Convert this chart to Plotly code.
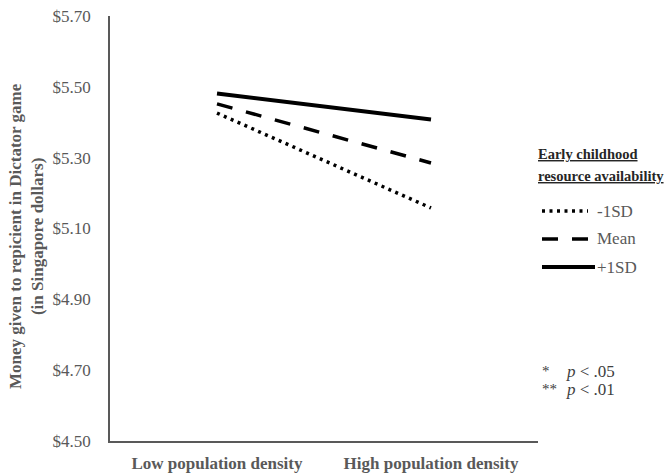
import plotly.graph_objects as go

# Simple-slopes data: money given in the Dictator game
categories = ["Low population density", "High population density"]
series_names = ["-1SD", "Mean", "+1SD"]
minus_1sd = [5.426, 5.158]
mean_vals = [5.452, 5.285]
plus_1sd = [5.481, 5.408]
y_ticks = [4.50, 4.70, 4.90, 5.10, 5.30, 5.50, 5.70]
y_tick_labels = ["$4.50", "$4.70", "$4.90", "$5.10", "$5.30", "$5.50", "$5.70"]

SERIF = "Liberation Serif, Times New Roman, serif"
GRAY = "#595959"

# plot area in pixels
L, R, T, B = 110, 538, 16, 441
W, H = 669, 475


def px(xp):
    return (xp - L) / (R - L)


def py(yp):
    return (B - yp) / (B - T)


styles = {
    "-1SD": dict(width=3.5, dash="3px,4.5px"),
    "Mean": dict(width=3.5, dash="16px,14px"),
    "+1SD": dict(width=4, dash="solid"),
}

fig = go.Figure()
for name, vals in zip(series_names, [minus_1sd, mean_vals, plus_1sd]):
    fig.add_trace(go.Scatter(
        x=categories, y=vals, mode="lines", name=name,
        line=dict(color="black", **styles[name]),
        showlegend=False,
    ))

fig.update_layout(
    width=W, height=H,
    margin=dict(l=L, r=W - R, t=T, b=H - B),
    paper_bgcolor="white", plot_bgcolor="white",
    font=dict(family=SERIF, color=GRAY, size=17),
    xaxis=dict(
        type="category", range=[-0.5, 1.5], automargin=False,
        showline=True, linecolor=GRAY, linewidth=1.5,
        ticks="", showgrid=False, zeroline=False,
        tickfont=dict(family=SERIF, size=17, color=GRAY, weight="bold"),
        ticklabelstandoff=6,
    ),
    yaxis=dict(
        range=[4.50, 5.70], tickvals=y_ticks, ticktext=y_tick_labels,
        automargin=False,
        showline=True, linecolor=GRAY, linewidth=1.5,
        ticks="", showgrid=False, zeroline=False,
        tickfont=dict(family=SERIF, size=17, color=GRAY),
        ticklabelstandoff=14,
    ),
)

# Y-axis title
fig.add_annotation(
    xref="paper", yref="paper", x=px(27), y=py(236),
    xanchor="center", yanchor="middle", showarrow=False, textangle=-90,
    text="<b>Money given to repicient in Dictator game<br>(in Singapore dollars)</b>",
    font=dict(family=SERIF, size=17, color=GRAY),
)

# Legend block drawn beside the plot
for txt, ypx in [("Early childhood", 154), ("resource availability", 176)]:
    fig.add_annotation(
        xref="paper", yref="paper", x=px(536), y=py(ypx),
        xanchor="left", yanchor="middle", showarrow=False, align="left",
        text=f"<b><u>{txt}</u></b>",
        font=dict(family=SERIF, size=14.5, color="#262626"),
    )
legend_rows = {"-1SD": 211, "Mean": 239, "+1SD": 267}
legend_ends = {"-1SD": 588, "Mean": 588, "+1SD": 595}
for name in series_names:
    yp = py(legend_rows[name])
    fig.add_shape(
        type="line", xref="paper", yref="paper",
        x0=px(542), x1=px(legend_ends[name]), y0=yp, y1=yp,
        line=dict(color="black", **styles[name]),
    )
    fig.add_annotation(
        xref="paper", yref="paper", x=px(595), y=yp,
        xanchor="left", yanchor="middle", showarrow=False,
        text=name, font=dict(family=SERIF, size=17, color=GRAY),
    )

# Significance key
for stars, rest, ypx in [("*", "<i>p</i> &lt; .05", 371), ("**", "<i>p</i> &lt; .01", 389)]:
    fig.add_annotation(
        xref="paper", yref="paper", x=px(540), y=py(ypx),
        xanchor="left", yanchor="middle", showarrow=False,
        text=stars, font=dict(family=SERIF, size=15, color="#404040"),
    )
    fig.add_annotation(
        xref="paper", yref="paper", x=px(564), y=py(ypx),
        xanchor="left", yanchor="middle", showarrow=False,
        text=rest, font=dict(family=SERIF, size=17, color="#404040"),
    )

fig.write_html("out.html")
